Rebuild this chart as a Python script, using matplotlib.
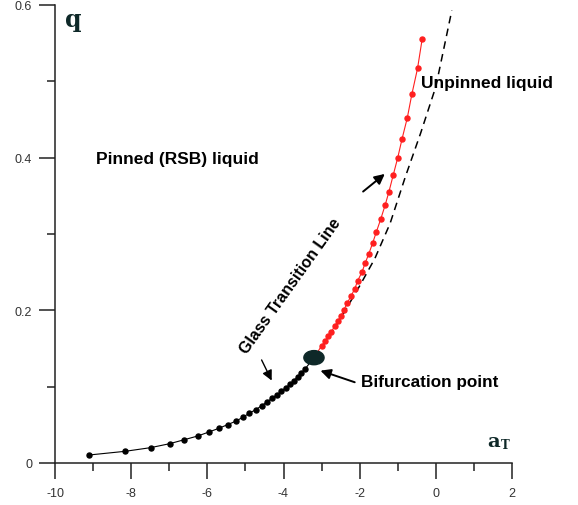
#!/usr/bin/env python3
"""
Glass transition line q(a_T): pinned (RSB) vs unpinned liquid
"""

import matplotlib
matplotlib.use('Agg')
import matplotlib.pyplot as plt
from matplotlib.patches import Ellipse
from matplotlib.ticker import MultipleLocator

plt.rcParams['axes.unicode_minus'] = False
plt.rcParams['font.family'] = ['Liberation Sans', 'DejaVu Sans']

# --- data ---
black_x = [-9.10, -8.16, -7.49, -6.99, -6.60, -6.25, -5.96, -5.70, -5.47, -5.26,
           -5.07, -4.90, -4.73, -4.57, -4.44, -4.30, -4.17, -4.06, -3.94, -3.83,
           -3.73, -3.63, -3.54, -3.44, -3.20]
black_q = [0.0105, 0.0153, 0.0201, 0.0253, 0.0306, 0.0354, 0.0406, 0.0454, 0.0502, 0.0546,
           0.0598, 0.0651, 0.0699, 0.0751, 0.0799, 0.0848, 0.0895, 0.0939, 0.0987, 0.1031,
           0.1079, 0.1127, 0.1180, 0.1228, 0.1380]

red_x = [-3.20, -3.00, -2.90, -2.82, -2.74, -2.66, -2.57, -2.49, -2.41, -2.32, -2.23,
         -2.13, -2.05, -1.94, -1.855, -1.76, -1.66, -1.56, -1.45, -1.33, -1.23,
         -1.12, -1.00, -0.885, -0.75, -0.63, -0.48, -0.36]
red_q = [0.1380, 0.1535, 0.160, 0.166, 0.172, 0.179, 0.186, 0.193, 0.201, 0.210, 0.2185,
         0.228, 0.239, 0.250, 0.262, 0.274, 0.288, 0.303, 0.319, 0.338, 0.3556,
         0.377, 0.400, 0.425, 0.452, 0.483, 0.517, 0.555]

dash_x = [-3.20, -2.80, -2.40, -2.00, -1.60, -1.20, -0.80, -0.40, 0.00, 0.42]
dash_q = [0.138, 0.165, 0.198, 0.232, 0.268, 0.314, 0.375, 0.432, 0.493, 0.593]

bif_point = (-3.20, 0.138)

x_ticks = [-10, -8, -6, -4, -2, 0, 2]
y_ticks = [0, 0.2, 0.4, 0.6]
y_ticklabels = ['0', '0.2', '0.4', '0.6']

# colours
red = '#ff1f1f'
dark = '#0e2828'
axis_col = '#222222'

fig = plt.figure(figsize=(5.78, 5.06), dpi=100)
ax = fig.add_axes([55 / 578, 1 - 464 / 506, (512 - 55) / 578, (464 - 6) / 506])

# dashed (unpinned) curve sits under the red points
ax.plot(dash_x, dash_q, color='black', lw=1.1, dashes=(5, 3.5), zorder=2)
ax.plot(black_x, black_q, color='black', lw=0.8, marker='o', ms=3.6,
        mec='black', mfc='black', zorder=3)
ax.plot(red_x, red_q, color=red, lw=0.8, marker='o', ms=3.6,
        mec=red, mfc=red, zorder=3)

# bifurcation point
ax.add_patch(Ellipse(bif_point, width=0.53, height=0.0185, facecolor=dark,
                     edgecolor=dark, zorder=4))

# arrows
arrow = dict(arrowstyle='-|>,head_length=0.6,head_width=0.3', color='black', lw=1.4,
             shrinkA=0, shrinkB=0)
ax.annotate('', xy=(-1.34, 0.3787), xytext=(-1.91, 0.3556), arrowprops=arrow)
ax.annotate('', xy=(-4.31, 0.108), xytext=(-4.575, 0.135),
            arrowprops=dict(arrow, lw=1.0))
ax.annotate('', xy=(-3.03, 0.121), xytext=(-2.13, 0.1058), arrowprops=arrow)

# labels inside the plot
ax.text(-8.92, 0.399, 'Pinned (RSB) liquid', fontsize=12.5, fontweight='bold',
        ha='left', va='center')
ax.text(-0.38, 0.498, 'Unpinned liquid', fontsize=12.5, fontweight='bold',
        ha='left', va='center')
ax.text(-1.96, 0.1065, 'Bifurcation point', fontsize=12.3, fontweight='bold',
        ha='left', va='center')
ax.text(-3.81, 0.2325, 'Glass Transition Line', fontsize=11.5, fontweight='bold',
        ha='center', va='center', rotation=54.5, rotation_mode='anchor')

# axis names
ax.text(-9.53, 0.573, 'q', fontsize=17, fontweight='bold', family='DejaVu Serif',
        color=dark, ha='center', va='baseline')
ax.text(1.34, 0.0223, 'a', fontsize=14, fontweight='bold', family='DejaVu Serif',
        color=dark, ha='left', va='baseline')
ax.text(1.71, 0.019, 'T', fontsize=8.5, fontweight='bold', family='DejaVu Serif',
        color=dark, ha='left', va='baseline')

# axes styling
ax.set_xlim(-10, 2)
ax.set_ylim(0, 0.6)
ax.spines['top'].set_visible(False)
ax.spines['right'].set_visible(False)
for s in ('left', 'bottom'):
    ax.spines[s].set_linewidth(1.1)
    ax.spines[s].set_color(axis_col)

ax.set_xticks(x_ticks)
ax.set_xticklabels([str(v) for v in x_ticks])
ax.set_yticks(y_ticks)
ax.set_yticklabels(y_ticklabels)
ax.xaxis.set_minor_locator(MultipleLocator(1))
ax.yaxis.set_minor_locator(MultipleLocator(0.1))
ax.tick_params(which='major', direction='out', length=11.5, width=1.1,
               color=axis_col, labelsize=9, labelcolor='#333333')
ax.tick_params(which='minor', direction='out', length=6, width=1.1, color=axis_col)
ax.tick_params(axis='x', which='major', pad=6)
ax.tick_params(axis='y', which='major', pad=5)

fig.savefig('out.png', dpi=100, facecolor='white')
